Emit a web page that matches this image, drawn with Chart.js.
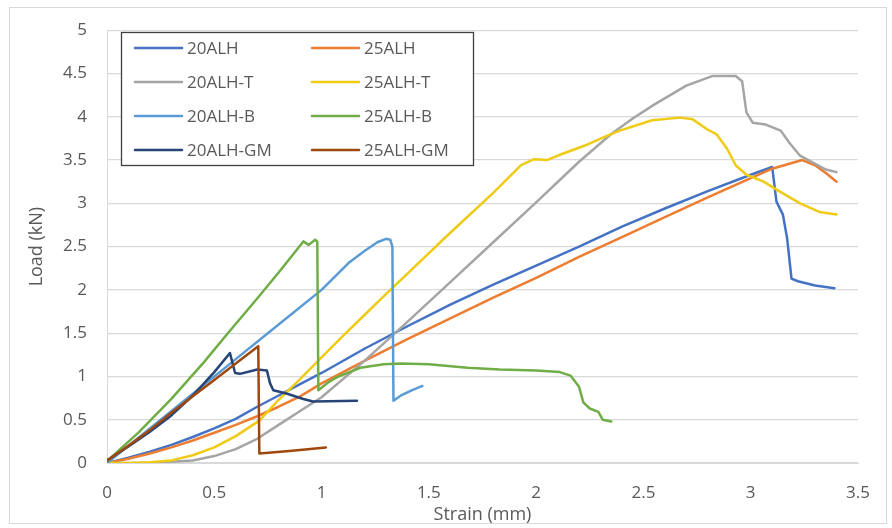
<!DOCTYPE html>
<html>
<head>
<meta charset="utf-8">
<script src="https://cdn.jsdelivr.net/npm/chart.js@4.4.1/dist/chart.umd.min.js"></script>
<style>
  html, body { margin: 0; padding: 0; background: #ffffff; }
  #wrap { width: 892px; height: 528px; }
</style>
</head>
<body>
<div id="wrap"><canvas id="c" width="892" height="528"></canvas></div>
<script>
// ---- data: [strain (mm), load (kN)] ----
const seriesNames = ['20ALH', '25ALH', '20ALH-T', '25ALH-T', '20ALH-B', '25ALH-B', '20ALH-GM', '25ALH-GM'];

const d20ALH = [[0,0],[0.1,0.06],[0.2,0.13],[0.3,0.21],[0.4,0.3],[0.5,0.4],[0.6,0.51],[0.7,0.65],[0.8,0.78],[0.9,0.91],[1.0,1.04],[1.2,1.32],[1.4,1.58],[1.6,1.83],[1.8,2.06],[2.0,2.28],[2.2,2.5],[2.4,2.73],[2.6,2.94],[2.8,3.14],[3.0,3.33],[3.1,3.42],[3.12,3.02],[3.15,2.87],[3.17,2.59],[3.19,2.13],[3.22,2.10],[3.3,2.05],[3.39,2.02]];

const d25ALH = [[0,0],[0.1,0.05],[0.2,0.11],[0.3,0.18],[0.4,0.26],[0.5,0.35],[0.6,0.44],[0.7,0.54],[0.8,0.65],[0.9,0.77],[1.0,0.92],[1.2,1.18],[1.4,1.43],[1.6,1.67],[1.8,1.91],[2.0,2.14],[2.2,2.38],[2.4,2.61],[2.6,2.84],[2.8,3.07],[3.0,3.29],[3.1,3.4],[3.24,3.5],[3.3,3.44],[3.35,3.35],[3.4,3.25]];

const d20ALH_T = [[0,0],[0.2,0.0],[0.4,0.03],[0.5,0.08],[0.6,0.16],[0.7,0.28],[0.8,0.44],[0.9,0.6],[1.0,0.76],[1.2,1.18],[1.4,1.63],[1.6,2.09],[1.8,2.55],[2.0,3.01],[2.2,3.48],[2.35,3.8],[2.45,3.98],[2.55,4.14],[2.7,4.36],[2.82,4.47],[2.93,4.47],[2.96,4.41],[2.98,4.05],[3.01,3.93],[3.07,3.91],[3.14,3.84],[3.18,3.70],[3.23,3.55],[3.29,3.47],[3.35,3.39],[3.40,3.36]];

const d25ALH_T = [[0,0],[0.1,0.0],[0.2,0.01],[0.3,0.03],[0.4,0.09],[0.5,0.18],[0.6,0.31],[0.71,0.49],[0.8,0.73],[0.9,0.97],[1.0,1.22],[1.1,1.47],[1.2,1.71],[1.3,1.95],[1.46,2.33],[1.6,2.66],[1.8,3.12],[1.93,3.44],[1.99,3.51],[2.05,3.50],[2.12,3.57],[2.24,3.68],[2.33,3.78],[2.39,3.84],[2.54,3.96],[2.67,3.99],[2.73,3.97],[2.80,3.85],[2.84,3.80],[2.89,3.63],[2.93,3.44],[2.98,3.33],[3.06,3.25],[3.14,3.13],[3.23,3.0],[3.32,2.9],[3.40,2.87]];

const d20ALH_B = [[0,0],[0.2,0.4],[0.4,0.8],[0.6,1.2],[0.8,1.6],[1.0,2.0],[1.13,2.32],[1.2,2.45],[1.26,2.55],[1.30,2.59],[1.32,2.58],[1.33,2.50],[1.335,0.72],[1.37,0.78],[1.42,0.84],[1.47,0.89]];

const d25ALH_B = [[0,0.02],[0.15,0.36],[0.3,0.74],[0.45,1.16],[0.57,1.52],[0.7,1.9],[0.8,2.2],[0.88,2.45],[0.915,2.56],[0.94,2.52],[0.97,2.58],[0.98,2.56],[0.985,0.84],[1.03,0.93],[1.07,0.99],[1.18,1.10],[1.29,1.14],[1.37,1.15],[1.5,1.14],[1.68,1.10],[1.83,1.08],[2.0,1.07],[2.11,1.05],[2.16,1.01],[2.20,0.88],[2.22,0.70],[2.25,0.63],[2.29,0.59],[2.31,0.50],[2.35,0.48]];

const d20ALH_GM = [[0,0.03],[0.1,0.19],[0.2,0.36],[0.3,0.55],[0.4,0.78],[0.5,1.05],[0.573,1.27],[0.597,1.04],[0.62,1.03],[0.70,1.08],[0.745,1.07],[0.76,0.92],[0.775,0.84],[0.84,0.80],[0.915,0.74],[0.96,0.71],[1.165,0.72]];

const d25ALH_GM = [[0,0.03],[0.1,0.2],[0.2,0.38],[0.3,0.58],[0.4,0.77],[0.5,0.96],[0.6,1.15],[0.705,1.35],[0.71,0.11],[0.85,0.14],[1.02,0.18]];

const seriesData = [d20ALH, d25ALH, d20ALH_T, d25ALH_T, d20ALH_B, d25ALH_B, d20ALH_GM, d25ALH_GM];
const seriesColors = ['#4472C4', '#ED7D31', '#A5A5A5', '#F0CB16', '#5B9BD5', '#70AD47', '#264478', '#9E480E'];

const xTickValues = [0, 0.5, 1, 1.5, 2, 2.5, 3, 3.5];
const yTickValues = [0, 0.5, 1, 1.5, 2, 2.5, 3, 3.5, 4, 4.5, 5];
const xTitle = 'Strain (mm)';
const yTitle = 'Load (kN)';

// ---- chart ----
const FONT = "'Open Sans', 'Liberation Sans', sans-serif";
const TEXT = '#595959';

const datasets = seriesNames.map((name, i) => ({
  label: name,
  data: seriesData[i].map(p => ({ x: p[0], y: p[1] })),
  borderColor: seriesColors[i],
  backgroundColor: seriesColors[i],
  borderWidth: 2.5,
  pointRadius: 0,
  tension: 0,
  fill: false,
  borderJoinStyle: 'round',
  borderCapStyle: 'round',
  order: seriesNames.length - i
}));

const framePlugin = {
  id: 'frame',
  beforeDraw(chart) {
    const ctx = chart.ctx;
    ctx.save();
    ctx.fillStyle = '#ffffff';
    ctx.fillRect(0, 0, chart.width, chart.height);
    ctx.strokeStyle = '#D9D9D9';
    ctx.lineWidth = 1;
    ctx.strokeRect(9.5, 7.5, 877, 516);
    ctx.restore();
  }
};

const legendPlugin = {
  id: 'boxLegend',
  afterDatasetsDraw(chart) {
    const ctx = chart.ctx;
    const bx = 121.5, by = 32.5, bw = 352, bh = 133;
    ctx.save();
    ctx.fillStyle = '#ffffff';
    ctx.fillRect(bx, by, bw, bh);
    ctx.strokeStyle = '#404040';
    ctx.lineWidth = 1.3;
    ctx.strokeRect(bx, by, bw, bh);
    const colLineX = [135, 312];
    const lineLen = 47;
    const rowY0 = 48, rowStep = 34;
    ctx.font = '17px ' + FONT;
    ctx.textBaseline = 'middle';
    ctx.textAlign = 'left';
    chart.data.datasets.forEach((ds, i) => {
      const col = i % 2, row = Math.floor(i / 2);
      const x = colLineX[col], y = rowY0 + row * rowStep;
      ctx.strokeStyle = ds.borderColor;
      ctx.lineWidth = 2.5;
      ctx.lineCap = 'round';
      ctx.beginPath();
      ctx.moveTo(x, y);
      ctx.lineTo(x + lineLen, y);
      ctx.stroke();
      ctx.fillStyle = TEXT;
      ctx.fillText(ds.label, x + lineLen + 5, y + 1);
    });
    ctx.restore();
  }
};

new Chart(document.getElementById('c'), {
  type: 'line',
  data: { datasets },
  options: {
    responsive: false,
    animation: false,
    devicePixelRatio: 1,
    layout: { padding: { left: 0, top: 27, right: 34, bottom: 0 } },
    plugins: {
      legend: { display: false },
      tooltip: { enabled: false },
      title: { display: false }
    },
    scales: {
      x: {
        type: 'linear',
        min: 0,
        max: 3.5,
        afterBuildTicks(scale) { scale.ticks = xTickValues.map(v => ({ value: v })); },
        afterFit(scale) { scale.height = 65; },
        grid: { display: false, drawTicks: false },
        border: { display: true, color: '#D9D9D9', width: 1 },
        ticks: {
          padding: 20,
          color: TEXT,
          font: { family: FONT, size: 17 },
          maxRotation: 0,
          callback: v => String(v)
        },
        title: {
          display: true,
          text: xTitle,
          color: TEXT,
          font: { family: FONT, size: 18 },
          padding: { top: 0, bottom: 2 }
        }
      },
      y: {
        type: 'linear',
        min: 0,
        max: 5,
        afterBuildTicks(scale) { scale.ticks = yTickValues.map(v => ({ value: v })); },
        afterFit(scale) { scale.width = 107; },
        grid: { color: '#D9D9D9', lineWidth: 1.3, drawTicks: false },
        border: { display: true, color: '#D9D9D9', width: 1 },
        ticks: {
          padding: 20,
          color: TEXT,
          font: { family: FONT, size: 17 },
          callback: v => String(v)
        },
        title: {
          display: true,
          text: yTitle,
          color: TEXT,
          font: { family: FONT, size: 18 },
          padding: { top: 26, bottom: 0 }
        }
      }
    }
  },
  plugins: [framePlugin, legendPlugin]
});
</script>
</body>
</html>
